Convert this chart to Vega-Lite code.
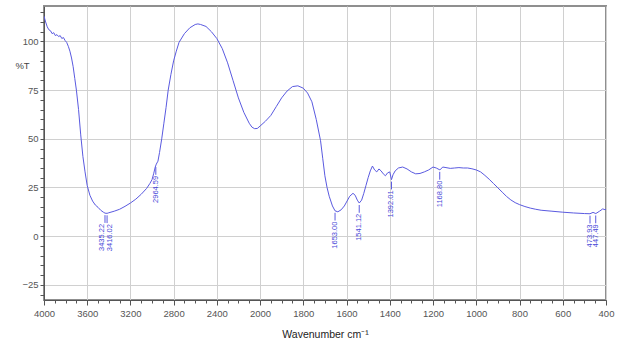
{
  "$schema": "https://vega.github.io/schema/vega-lite/v6.json",
  "autosize": {"type": "none"},
  "padding": {"left": 44, "top": 6, "right": 21, "bottom": 50},
  "width": 562,
  "height": 294,
  "background": "white",
  "config": {
    "view": {"stroke": "#8f8f8f", "strokeWidth": 2},
    "axis": {"labelFont": "Liberation Sans", "titleFont": "Liberation Sans", "labelColor": "#555", "tickColor": "#555", "domainColor": "#555", "gridColor": "#d0d0d0", "gridWidth": 1}
  },
  "datasets": {
    "spectrum": [
      {"wn": 4000, "T": 113}, {"wn": 3985, "T": 110}, {"wn": 3970, "T": 107.5}, {"wn": 3955, "T": 106}, {"wn": 3940, "T": 105.5},
      {"wn": 3925, "T": 104}, {"wn": 3910, "T": 104.5}, {"wn": 3895, "T": 103}, {"wn": 3880, "T": 103.5}, {"wn": 3865, "T": 102.5},
      {"wn": 3850, "T": 103}, {"wn": 3835, "T": 101.5}, {"wn": 3820, "T": 102}, {"wn": 3805, "T": 100.5}, {"wn": 3790, "T": 99.5},
      {"wn": 3775, "T": 97.5}, {"wn": 3760, "T": 95}, {"wn": 3745, "T": 91.5}, {"wn": 3730, "T": 87}, {"wn": 3715, "T": 81},
      {"wn": 3700, "T": 75}, {"wn": 3680, "T": 65}, {"wn": 3660, "T": 52}, {"wn": 3640, "T": 41}, {"wn": 3620, "T": 33},
      {"wn": 3600, "T": 26}, {"wn": 3575, "T": 21}, {"wn": 3550, "T": 18}, {"wn": 3525, "T": 16}, {"wn": 3500, "T": 14.8},
      {"wn": 3475, "T": 13.3}, {"wn": 3450, "T": 12.3}, {"wn": 3435, "T": 11.8}, {"wn": 3416, "T": 11.7}, {"wn": 3400, "T": 12},
      {"wn": 3350, "T": 12.8}, {"wn": 3300, "T": 13.8}, {"wn": 3250, "T": 15.3}, {"wn": 3200, "T": 17}, {"wn": 3150, "T": 19},
      {"wn": 3100, "T": 21.5}, {"wn": 3050, "T": 24.5}, {"wn": 3020, "T": 27}, {"wn": 3000, "T": 29}, {"wn": 2985, "T": 32},
      {"wn": 2970, "T": 35.5}, {"wn": 2960, "T": 37}, {"wn": 2945, "T": 38.5}, {"wn": 2930, "T": 43}, {"wn": 2910, "T": 50},
      {"wn": 2890, "T": 58}, {"wn": 2870, "T": 66}, {"wn": 2850, "T": 75}, {"wn": 2825, "T": 83}, {"wn": 2800, "T": 90},
      {"wn": 2775, "T": 95}, {"wn": 2750, "T": 99.5}, {"wn": 2700, "T": 104}, {"wn": 2650, "T": 107}, {"wn": 2600, "T": 108.7},
      {"wn": 2575, "T": 109}, {"wn": 2550, "T": 108.7}, {"wn": 2500, "T": 107.7}, {"wn": 2450, "T": 105}, {"wn": 2400, "T": 101.5},
      {"wn": 2350, "T": 96.4}, {"wn": 2300, "T": 89}, {"wn": 2250, "T": 80}, {"wn": 2200, "T": 71}, {"wn": 2150, "T": 63.6},
      {"wn": 2100, "T": 58}, {"wn": 2075, "T": 56}, {"wn": 2050, "T": 55.2}, {"wn": 2025, "T": 55.3}, {"wn": 2000, "T": 56.5},
      {"wn": 1975, "T": 59}, {"wn": 1950, "T": 62}, {"wn": 1925, "T": 66.5}, {"wn": 1900, "T": 71}, {"wn": 1875, "T": 74.5},
      {"wn": 1850, "T": 76.8}, {"wn": 1825, "T": 77.2}, {"wn": 1800, "T": 76}, {"wn": 1780, "T": 73.5}, {"wn": 1760, "T": 69},
      {"wn": 1740, "T": 60}, {"wn": 1720, "T": 49}, {"wn": 1710, "T": 40}, {"wn": 1700, "T": 31}, {"wn": 1690, "T": 25},
      {"wn": 1680, "T": 20.5}, {"wn": 1665, "T": 15.5}, {"wn": 1653, "T": 13}, {"wn": 1640, "T": 12.5}, {"wn": 1625, "T": 13.5},
      {"wn": 1610, "T": 15.5}, {"wn": 1600, "T": 17.5}, {"wn": 1585, "T": 20.5}, {"wn": 1570, "T": 22}, {"wn": 1560, "T": 21},
      {"wn": 1550, "T": 18.5}, {"wn": 1541, "T": 17}, {"wn": 1530, "T": 18.5}, {"wn": 1520, "T": 22}, {"wn": 1510, "T": 26},
      {"wn": 1500, "T": 30}, {"wn": 1490, "T": 33.5}, {"wn": 1480, "T": 36}, {"wn": 1470, "T": 34}, {"wn": 1460, "T": 33},
      {"wn": 1450, "T": 34.5}, {"wn": 1440, "T": 33.5}, {"wn": 1430, "T": 32}, {"wn": 1420, "T": 31}, {"wn": 1410, "T": 32.5},
      {"wn": 1400, "T": 33}, {"wn": 1392, "T": 29}, {"wn": 1385, "T": 31.5}, {"wn": 1375, "T": 33.5}, {"wn": 1360, "T": 35},
      {"wn": 1340, "T": 35.5}, {"wn": 1320, "T": 34.5}, {"wn": 1300, "T": 33}, {"wn": 1280, "T": 32}, {"wn": 1260, "T": 32.2},
      {"wn": 1240, "T": 33}, {"wn": 1220, "T": 34}, {"wn": 1200, "T": 35.5}, {"wn": 1185, "T": 35}, {"wn": 1168, "T": 34},
      {"wn": 1155, "T": 35.5}, {"wn": 1140, "T": 35.2}, {"wn": 1120, "T": 34.8}, {"wn": 1100, "T": 35}, {"wn": 1080, "T": 35.2},
      {"wn": 1060, "T": 35}, {"wn": 1040, "T": 35}, {"wn": 1020, "T": 34.6}, {"wn": 1000, "T": 34}, {"wn": 980, "T": 33},
      {"wn": 960, "T": 31.2}, {"wn": 940, "T": 29.2}, {"wn": 920, "T": 27}, {"wn": 900, "T": 24.8}, {"wn": 880, "T": 22.6},
      {"wn": 860, "T": 20.4}, {"wn": 840, "T": 18.6}, {"wn": 820, "T": 17.2}, {"wn": 800, "T": 16.2}, {"wn": 775, "T": 15.2},
      {"wn": 750, "T": 14.4}, {"wn": 725, "T": 13.8}, {"wn": 700, "T": 13.3}, {"wn": 650, "T": 12.8}, {"wn": 600, "T": 12.3},
      {"wn": 550, "T": 11.9}, {"wn": 500, "T": 11.6}, {"wn": 474, "T": 11.5}, {"wn": 460, "T": 12.2}, {"wn": 447, "T": 11.6},
      {"wn": 430, "T": 12.8}, {"wn": 415, "T": 14}, {"wn": 405, "T": 13.6}, {"wn": 400, "T": 13.8}
    ],
    "peaks": [
      {"wn": 3435.22, "T": 11.8, "label": "3435.22"},
      {"wn": 3416.02, "T": 11.7, "label": "3416.02"},
      {"wn": 2964.59, "T": 36.5, "label": "2964.59"},
      {"wn": 1653.0, "T": 13, "label": "1653.00"},
      {"wn": 1541.12, "T": 17, "label": "1541.12"},
      {"wn": 1392.01, "T": 29, "label": "1392.01"},
      {"wn": 1168.8, "T": 34, "label": "1168.80"},
      {"wn": 473.93, "T": 11.5, "label": "473.93"},
      {"wn": 447.49, "T": 11.6, "label": "447.49"}
    ]
  },
  "layer": [
    {
      "data": {"name": "spectrum"},
      "mark": {"type": "line", "color": "#5a5ae0", "strokeWidth": 1, "clip": true},
      "encoding": {
        "x": {
          "field": "wn", "type": "quantitative",
          "scale": {"type": "linear", "domain": [4000, 2000, 400], "range": [0, 216, 562], "nice": false, "zero": false},
          "axis": {
            "title": "Wavenumber cm⁻¹",
            "titleFontSize": 10.5, "titleColor": "#222", "titleFontWeight": "normal", "titlePadding": 12,
            "tickCount": 1000,
            "values": [4000,3900,3800,3700,3600,3500,3400,3300,3200,3100,3000,2900,2800,2700,2600,2500,2400,2300,2200,2100,2000,1950,1900,1850,1800,1750,1700,1650,1600,1550,1500,1450,1400,1350,1300,1250,1200,1150,1100,1050,1000,950,900,850,800,750,700,650,600,550,500,450,400],
            "labelExpr": "indexof([4000,3600,3200,2800,2400,2000,1800,1600,1400,1200,1000,800,600,400], datum.value) >= 0 ? datum.label : ''",
            "format": "d",
            "labelFontSize": 9.5, "labelFlush": false, "labelOverlap": false, "labelBound": false, "labelPadding": 3,
            "tickSize": {"condition": {"test": "indexof([4000,3600,3200,2800,2400,2000,1800,1600,1400,1200,1000,800,600,400], datum.value) >= 0", "value": 5}, "value": 3},
            "gridOpacity": {"condition": {"test": "indexof([4000,3600,3200,2800,2400,2000,1800,1600,1400,1200,1000,800,600,400], datum.value) >= 0", "value": 1}, "value": 0},
            "grid": true
          }
        },
        "y": {
          "field": "T", "type": "quantitative",
          "scale": {"domain": [-32.8, 118.2], "nice": false, "zero": false},
          "axis": {
            "title": "%T", "titleAngle": 0, "titleX": -22, "titleY": 59, "titleAlign": "center", "titleBaseline": "middle",
            "titleFontSize": 9.5, "titleColor": "#444", "titleFontWeight": "normal",
            "tickCount": 1000,
            "values": [-30,-25,-20,-15,-10,-5,0,5,10,15,20,25,30,35,40,45,50,55,60,65,70,75,80,85,90,95,100,105,110,115],
            "format": "d",
            "labelExpr": "indexof([-25,0,25,50,75,100], datum.value) >= 0 ? datum.label : ''",
            "labelFontSize": 9.5, "labelOverlap": false, "labelPadding": 2,
            "tickSize": 4,
            "gridOpacity": {"condition": {"test": "indexof([-25,0,25,50,75,100], datum.value) >= 0", "value": 1}, "value": 0},
            "grid": true
          }
        }
      }
    },
    {
      "data": {"name": "peaks"},
      "transform": [{"calculate": "datum.T - 1", "as": "top"}, {"calculate": "datum.T - 5", "as": "bot"}],
      "mark": {"type": "rule", "color": "#5a5ae0", "strokeWidth": 1},
      "encoding": {
        "x": {"field": "wn", "type": "quantitative"},
        "y": {"field": "top", "type": "quantitative"},
        "y2": {"field": "bot"}
      }
    },
    {
      "data": {"name": "peaks"},
      "transform": [{"filter": "datum.label !== '3435.22' && datum.label !== '3416.02'"}, {"calculate": "datum.T - 5.5", "as": "ty"}],
      "mark": {"type": "text", "angle": 270, "align": "right", "baseline": "middle", "fontSize": 7.5, "font": "Liberation Sans", "color": "#4848d8"},
      "encoding": {
        "x": {"field": "wn", "type": "quantitative"},
        "y": {"field": "ty", "type": "quantitative"},
        "text": {"field": "label"}
      }
    },
    {
      "data": {"name": "peaks"},
      "transform": [{"filter": "datum.label === '3435.22'"}, {"calculate": "datum.T - 5.5", "as": "ty"}],
      "mark": {"type": "text", "angle": 270, "align": "right", "baseline": "middle", "fontSize": 7.5, "font": "Liberation Sans", "color": "#4848d8", "dy": -3},
      "encoding": {
        "x": {"field": "wn", "type": "quantitative"},
        "y": {"field": "ty", "type": "quantitative"},
        "text": {"field": "label"}
      }
    },
    {
      "data": {"name": "peaks"},
      "transform": [{"filter": "datum.label === '3416.02'"}, {"calculate": "datum.T - 5.5", "as": "ty"}],
      "mark": {"type": "text", "angle": 270, "align": "right", "baseline": "middle", "fontSize": 7.5, "font": "Liberation Sans", "color": "#4848d8", "dy": 3},
      "encoding": {
        "x": {"field": "wn", "type": "quantitative"},
        "y": {"field": "ty", "type": "quantitative"},
        "text": {"field": "label"}
      }
    }
  ]
}
